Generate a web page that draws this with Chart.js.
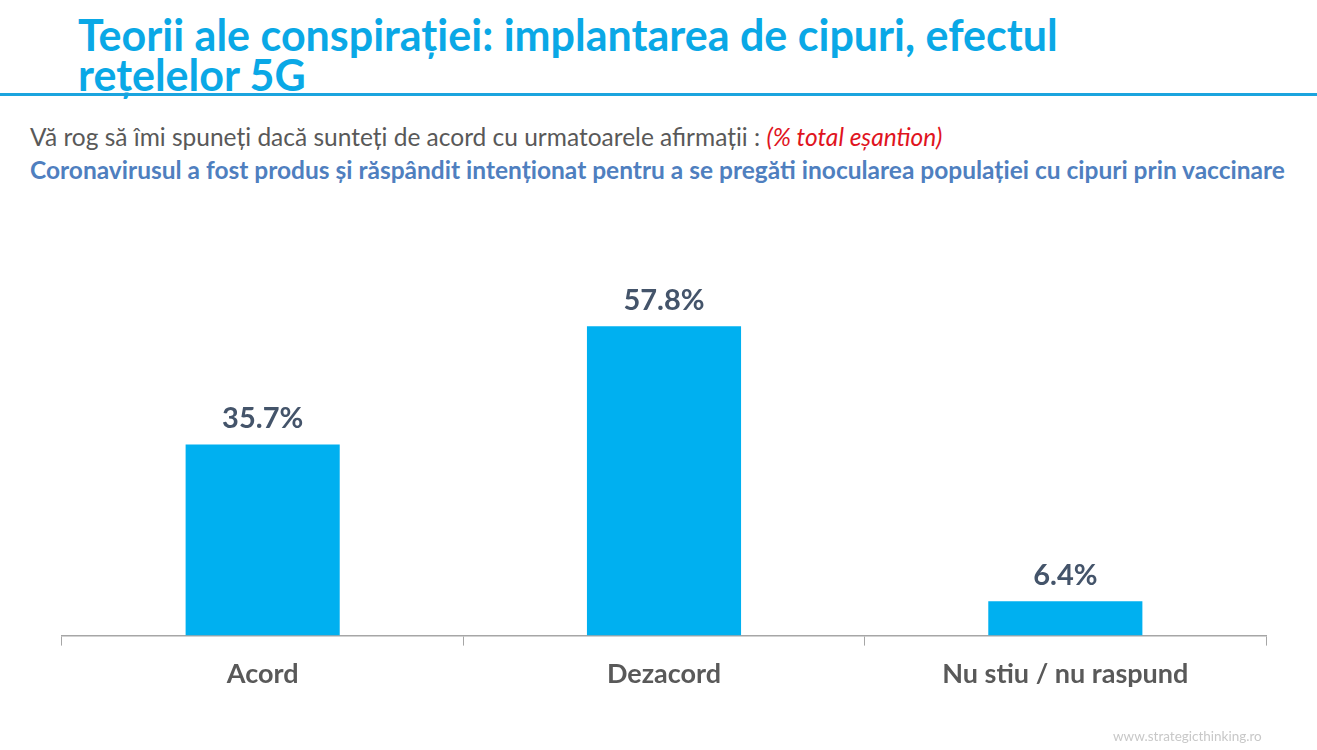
<!DOCTYPE html>
<html>
<head>
<meta charset="utf-8">
<script src="https://cdn.jsdelivr.net/npm/chart.js@4"></script>
<style>
  html, body { margin: 0; padding: 0; background: #fff; }
  body { width: 1317px; height: 750px; position: relative; overflow: hidden; font-family: Lato, sans-serif; }
  .title { position: absolute; left: 78px; top: 15px; color: #0aa8e6; font-weight: bold; font-size: 43px; line-height: 40px; white-space: nowrap; }
  .rule { position: absolute; left: 0; top: 93px; width: 1317px; height: 3px; background: #1ba4de; }
  .q { position: absolute; left: 30px; top: 122px; font-size: 24.5px; line-height: 1.2; color: #595959; white-space: nowrap; }
  .q em { color: #e0141e; }
  .s { position: absolute; left: 30px; top: 155px; font-size: 24.5px; line-height: 1.2; font-weight: bold; color: #4f7fbf; white-space: nowrap; }
  .src { position: absolute; left: 1113px; top: 728px; font-size: 13.5px; color: #c8c8c8; }
  #wrap { position: absolute; left: 0; top: 0; width: 1317px; height: 750px; }
</style>
</head>
<body>
<div class="title">Teorii ale conspirației: implantarea de cipuri, efectul<br>rețelelor 5G</div>
<div class="rule"></div>
<div class="q">Vă rog să îmi spuneți dacă sunteți de acord cu urmatoarele afirmații : <em>(% total eșantion)</em></div>
<div class="s">Coronavirusul a fost produs și răspândit intenționat pentru a se pregăti inocularea populației cu cipuri prin vaccinare</div>
<div id="wrap"><canvas id="chart"></canvas></div>
<div class="src">www.strategicthinking.ro</div>
<script>
// chart data
const categories = ['Acord', 'Dezacord', 'Nu stiu / nu raspund'];
const values = [35.7, 57.8, 6.4];

// draws the % value above each bar
const valueLabels = {
  id: 'valueLabels',
  afterDatasetsDraw(chart) {
    const ctx = chart.ctx;
    const meta = chart.getDatasetMeta(0);
    ctx.save();
    ctx.font = 'bold 29px Lato, sans-serif';
    ctx.fillStyle = '#44546a';
    ctx.textAlign = 'center';
    ctx.textBaseline = 'bottom';
    meta.data.forEach((bar, i) => {
      ctx.fillText(values[i].toFixed(1) + '%', bar.x, bar.y - 11);
    });
    ctx.restore();
  }
};

window.addEventListener('load', () => {
  const ctx = document.getElementById('chart').getContext('2d');
  new Chart(ctx, {
    type: 'bar',
    data: {
      labels: categories,
      datasets: [{
        data: values,
        backgroundColor: '#00b0f0',
        borderWidth: 0,
        categoryPercentage: 1,
        barPercentage: 0.384
      }]
    },
    options: {
      responsive: true,
      maintainAspectRatio: false,
      animation: false,
      layout: { padding: { left: 62, right: 51, top: 261, bottom: 48 } },
      plugins: { legend: { display: false }, tooltip: { enabled: false } },
      scales: {
        y: { display: false, min: 0, max: 70 },
        x: {
          grid: { drawOnChartArea: false, tickLength: 10, color: '#a6a6a6', offset: true },
          border: { color: '#a6a6a6', width: 1.5 },
          ticks: { color: '#595959', padding: 12, font: { family: 'Lato, sans-serif', size: 27, weight: 'bold' } }
        }
      }
    },
    plugins: [valueLabels]
  });
});
</script>
</body>
</html>
